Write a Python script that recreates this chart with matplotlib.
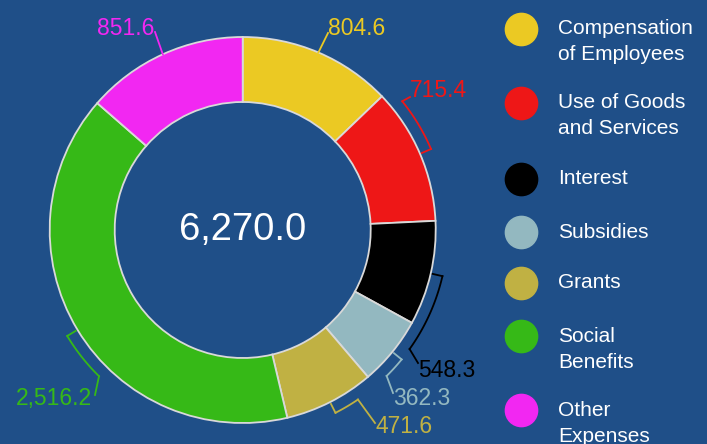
import numpy as np
import matplotlib.pyplot as plt

categories = ["Compensation\nof Employees", "Use of Goods\nand Services", "Interest",
              "Subsidies", "Grants", "Social\nBenefits", "Other\nExpenses"]
values = [804.6, 715.4, 548.3, 362.3, 471.6, 2516.2, 851.6]
colors = ["#ebc923", "#ee1717", "#000000", "#93b8c0", "#c0b143", "#36b917", "#f227f2"]

W, H = 707, 444
BG = "#1f4f88"
CX, CY = 242.7, H - 230
R_OUT, R_IN = 193, 128

# label layout: bracket far-end angle (deg clockwise from top, None = straight line),
# leader end point and text anchor (pixel coords, y from top)
brackets = [None, 51.1, 125.5, 135.4, 145.8, 224.5, None]
leader_end = [(328, 33), (410, 97), (418, 363), (393, 393), (375, 423), (95, 395), (155, 32)]
text_pos = [(328, 35, "left"), (410, 97, "left"), (418, 377, "left"), (393, 405, "left"),
            (375, 433, "left"), (92, 405, "right"), (154, 35, "right")]

plt.rcParams['font.family'] = ['Liberation Sans', 'DejaVu Sans']

fig = plt.figure(figsize=(W / 100, H / 100), dpi=100, facecolor=BG)
ax = fig.add_axes([0, 0, 1, 1])
ax.set_facecolor(BG)

ax.pie(values, colors=colors, startangle=90, counterclock=False, radius=R_OUT,
       center=(CX, CY), wedgeprops=dict(width=R_OUT - R_IN, edgecolor="#d9d9d9", linewidth=1.3))


def pt(r, theta):
    t = np.radians(theta)
    return CX + r * np.sin(t), CY + r * np.cos(t)


total = sum(values)
cum = np.cumsum([0] + values)
for i, v in enumerate(values):
    mid = (cum[i] + v / 2) / total * 360
    col = colors[i]
    ex, ey = leader_end[i][0], H - leader_end[i][1]
    if brackets[i] is None:
        x0, y0 = pt(R_OUT, mid)
        ax.plot([x0, ex], [y0, ey], color=col, lw=1.3)
    else:
        rb = 205
        x0, y0 = pt(R_OUT + 2, mid)
        x1, y1 = pt(rb, mid)
        ax.plot([x0, x1], [y0, y1], color=col, lw=1.3)
        th = np.linspace(mid, brackets[i], 40)
        xs, ys = pt(rb, th)
        ax.plot(xs, ys, color=col, lw=1.3)
        ax.plot([xs[-1], ex], [ys[-1], ey], color=col, lw=1.3)
    tx, ty, ha = text_pos[i]
    ax.text(tx, H - ty, f"{v:,.1f}", color=col, fontsize=16.5, ha=ha, va="baseline")

ax.text(CX, CY, f"{total:,.1f}", color="white", fontsize=27.5, ha="center", va="center")

# legend
leg_y = [29, 103, 179, 232, 283, 336, 410]
for i, name in enumerate(categories):
    ax.scatter([521], [H - leg_y[i]], s=540, color=colors[i], zorder=3)
    for j, line in enumerate(name.split("\n")):
        ax.text(558, H - leg_y[i] - 26 * j, line, color="white", fontsize=15,
                ha="left", va="center")

ax.set_xlim(0, W)
ax.set_ylim(0, H)
ax.set_aspect("equal")
ax.axis("off")

fig.savefig("out.png", dpi=100, facecolor=BG)
